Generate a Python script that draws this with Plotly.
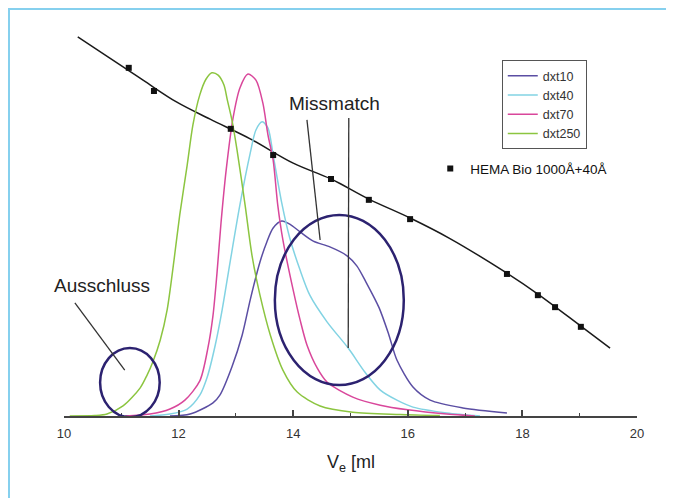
import plotly.graph_objects as go

# ---------------- data (elution volume Ve [ml] vs. relative intensity) ----------------
ve_dxt10 = [11.85, 12.20, 12.60, 12.72, 12.93, 13.11, 13.25, 13.42, 13.54, 13.65, 13.80, 13.94,
            14.12, 14.35, 14.64, 14.94, 15.11, 15.27, 15.50, 15.67, 15.81, 16.09, 16.39, 16.96, 17.73]
y_dxt10 = [0.0, 0.005, 0.034, 0.054, 0.127, 0.210, 0.301, 0.399, 0.451, 0.487, 0.505, 0.497,
           0.477, 0.453, 0.438, 0.415, 0.389, 0.347, 0.280, 0.210, 0.145, 0.075, 0.041, 0.021, 0.008]

ve_dxt40 = [11.50, 11.85, 12.15, 12.37, 12.50, 12.64, 12.76, 12.90, 13.07, 13.25, 13.35, 13.46,
            13.56, 13.65, 13.80, 13.94, 14.12, 14.29, 14.59, 14.96, 15.25, 15.52, 15.81, 16.09,
            16.68, 17.26]
y_dxt40 = [0.0, 0.005, 0.018, 0.054, 0.101, 0.184, 0.275, 0.400, 0.547, 0.681, 0.741, 0.762,
           0.746, 0.676, 0.552, 0.461, 0.378, 0.313, 0.244, 0.176, 0.114, 0.067, 0.041, 0.023,
           0.008, 0.0]

ve_dxt70 = [11.07, 11.50, 11.85, 12.11, 12.37, 12.51, 12.60, 12.67, 12.74, 12.83, 12.95, 13.07,
            13.21, 13.35, 13.47, 13.56, 13.65, 13.73, 13.82, 14.00, 14.12, 14.24, 14.42, 14.59,
            15.04, 15.52, 16.00, 16.68, 17.17]
y_dxt70 = [0.0, 0.005, 0.018, 0.041, 0.091, 0.175, 0.260, 0.370, 0.500, 0.637, 0.772, 0.850,
           0.886, 0.870, 0.811, 0.728, 0.663, 0.547, 0.456, 0.326, 0.249, 0.184, 0.124, 0.088,
           0.049, 0.028, 0.016, 0.005, 0.0]

ve_dxt250 = [10.10, 10.54, 10.75, 11.03, 11.33, 11.45, 11.55, 11.68, 11.80, 11.92, 12.02, 12.15,
             12.25, 12.37, 12.48, 12.58, 12.69, 12.79, 12.85, 12.93, 13.02, 13.16, 13.28, 13.42,
             13.60, 13.82, 14.07, 14.47, 15.04, 15.86, 16.56]
y_dxt250 = [0.0, 0.001, 0.005, 0.026, 0.073, 0.106, 0.140, 0.197, 0.275, 0.404, 0.521, 0.650,
            0.754, 0.832, 0.873, 0.889, 0.883, 0.858, 0.819, 0.767, 0.689, 0.547, 0.417, 0.313,
            0.210, 0.119, 0.062, 0.026, 0.010, 0.004, 0.001]

# calibration (HEMA Bio 1000Å+40Å): measured points and fitted curve
ve_cal_pts = [11.13, 11.57, 12.91, 13.65, 14.66, 15.32, 16.04, 17.73, 18.27, 18.57, 19.02]
y_cal_pts = [0.902, 0.842, 0.744, 0.676, 0.614, 0.560, 0.510, 0.368, 0.313, 0.282, 0.231]
ve_cal_fit = [10.24, 10.80, 11.38, 11.97, 12.55, 13.25, 14.00, 14.66, 15.32, 16.04, 16.72,
              17.73, 18.27, 19.02, 19.53]
y_cal_fit = [0.982, 0.927, 0.870, 0.813, 0.769, 0.718, 0.655, 0.614, 0.562, 0.513, 0.461,
             0.370, 0.316, 0.233, 0.176]

series = [
    ("dxt10", ve_dxt10, y_dxt10, "#5b4ea3"),
    ("dxt40", ve_dxt40, y_dxt40, "#82d3e3"),
    ("dxt70", ve_dxt70, y_dxt70, "#d9479b"),
    ("dxt250", ve_dxt250, y_dxt250, "#8cc540"),
]

x_ticks = [10, 12, 14, 16, 18, 20]

FONT = "Liberation Sans, Arial, Helvetica, sans-serif"

fig = go.Figure()

fig.add_trace(go.Scatter(x=ve_cal_fit, y=y_cal_fit, mode="lines",
                         line=dict(color="#1a1a1a", width=1.5, shape="spline"),
                         showlegend=False, hoverinfo="skip"))

for name, xs, ys, col in series:
    fig.add_trace(go.Scatter(x=xs, y=ys, mode="lines", name=name,
                             line=dict(color=col, width=1.5, shape="spline", smoothing=0.8),
                             legend="legend"))

fig.add_trace(go.Scatter(x=ve_cal_pts, y=y_cal_pts, mode="markers", name="HEMA Bio 1000Å+40Å",
                         marker=dict(symbol="square", size=6, color="#111111"),
                         legend="legend2", cliponaxis=False))

# circles & pointer lines (annotation graphics)
circ = "#2c2270"
fig.add_shape(type="circle", xref="x", yref="y", x0=10.63, x1=11.67, y0=-0.003, y1=0.176,
              line=dict(color=circ, width=2.5))
fig.add_shape(type="circle", xref="x", yref="y", x0=13.68, x1=15.93, y0=0.080, y1=0.521,
              line=dict(color=circ, width=2.5))
fig.add_shape(type="line", xref="x", yref="y", x0=10.19, y0=0.293, x1=11.06, y1=0.119,
              line=dict(color="#333333", width=1.3))
fig.add_shape(type="line", xref="x", yref="y", x0=14.24, y0=0.767, x1=14.47, y1=0.456,
              line=dict(color="#333333", width=1.3))
fig.add_shape(type="line", xref="x", yref="y", x0=14.97, y0=0.772, x1=14.96, y1=0.176,
              line=dict(color="#333333", width=1.3))

# light blue frame (top and left edges of the figure)
fig.add_shape(type="rect", xref="paper", yref="paper", x0=-0.096, x1=1.3, y0=-0.5, y1=1.0544,
              line=dict(color="#86d0ee", width=2), layer="below")

fig.add_annotation(x=10.66, y=0.339, xref="x", yref="y", text="Ausschluss", showarrow=False,
                   font=dict(family=FONT, size=19, color="#222222"))
fig.add_annotation(x=14.72, y=0.810, xref="x", yref="y", text="Missmatch", showarrow=False,
                   font=dict(family=FONT, size=19, color="#222222"))
fig.add_annotation(x=0.5, y=-0.122, xref="paper", yref="paper", text="V<sub>e</sub> [ml",
                   showarrow=False, yanchor="middle",
                   font=dict(family=FONT, size=18, color="#222222"))

fig.update_layout(
    width=666, height=490,
    margin=dict(l=56, r=37, t=22, b=82),
    paper_bgcolor="white", plot_bgcolor="white",
    font=dict(family=FONT, size=13, color="#333333"),
    xaxis=dict(range=[10, 20], tickvals=x_ticks, ticktext=[str(t) for t in x_ticks],
               ticks="inside", ticklen=6, tickwidth=1.5, tickcolor="#444444",
               showline=True, linecolor="#444444", linewidth=2, showgrid=False, zeroline=False,
               tickfont=dict(size=13, color="#333333"), ticklabelstandoff=4,
               minor=dict(ticks="inside", ticklen=3, dtick=1, tickcolor="#444444", tickwidth=1.2)),
    yaxis=dict(range=[0, 1], visible=False, showgrid=False, zeroline=False),
    legend=dict(x=0.764, y=0.922, xanchor="left", yanchor="top", bordercolor="#555555",
                borderwidth=1, bgcolor="white", font=dict(size=12.5, color="#333333"),
                tracegroupgap=0),
    legend2=dict(x=0.6392, y=0.6807, xanchor="left", yanchor="top", borderwidth=0,
                 bgcolor="rgba(0,0,0,0)", font=dict(size=13.5, color="#111111")),
)

fig.write_html("out.html")
